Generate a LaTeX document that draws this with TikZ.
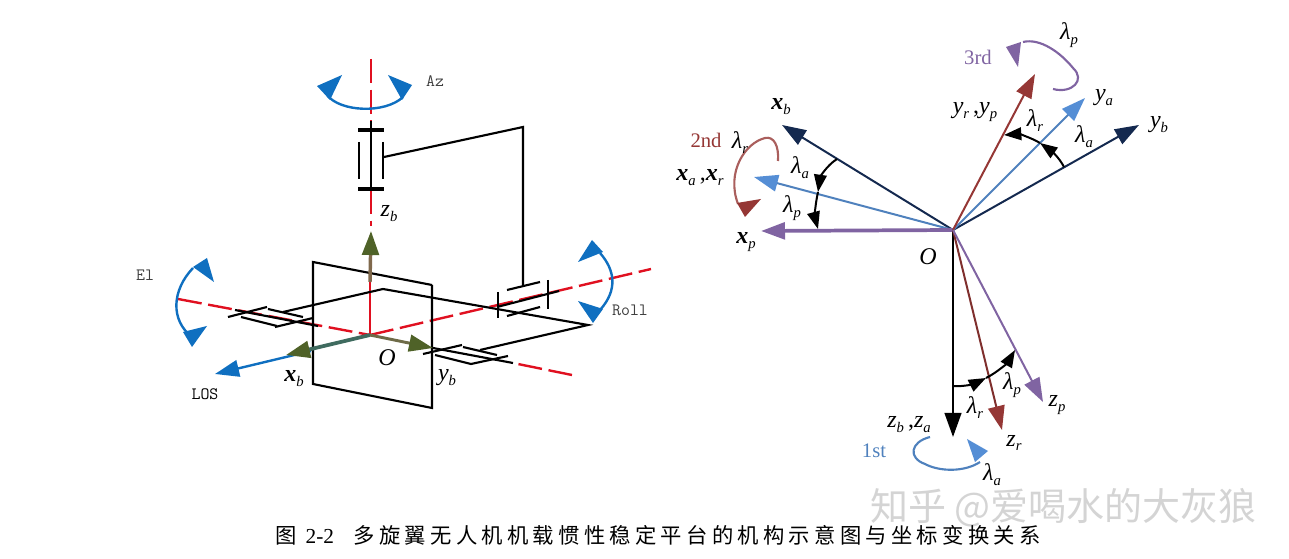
\documentclass[tikz,border=0pt]{standalone}
\usepackage{fontspec}
\setmainfont{Liberation Serif}
\newfontfamily\cjkcap[LetterSpace=20]{Noto Sans CJK SC}
\newfontfamily\cjkmark{Noto Sans CJK SC}
\usetikzlibrary{arrows.meta}
\definecolor{losblue}{HTML}{0F6FC0}
\definecolor{axisred}{HTML}{E01020}
\definecolor{axisgreen}{HTML}{4F6228}
\definecolor{shaftx}{HTML}{3F6B5F}
\definecolor{shafty}{HTML}{6E6B48}
\definecolor{shaftz}{HTML}{80694C}
\definecolor{navyax}{HTML}{14294F}
\definecolor{blueax}{HTML}{4F81BD}
\definecolor{bluehead}{HTML}{558ED5}
\definecolor{brownax}{HTML}{953735}
\definecolor{purpleax}{HTML}{8064A2}
\newcommand{\axlab}[2]{\textit{#1}\raisebox{-.45ex}{\fontsize{11}{11}\selectfont\textit{#2}}}
\tikzset{
  mech/.style={line width=1.6pt,black},
  thinmech/.style={line width=1.3pt,black},
  barmech/.style={line width=2.8pt,black},
  redaxis/.style={line width=1.8pt,axisred,dash pattern=on 18pt off 5pt},
  bluearc/.style={line width=1.8pt,losblue},
  tiparrow/.style={-{Triangle[length=18pt,width=12.5pt,color=#1]}},
  angtip/.style={line width=1.5pt,-{Triangle[length=13pt,width=9.5pt]}},
  symlab/.style={inner sep=0pt,font=\fontsize{18}{18}\selectfont},
  monolab/.style={inner sep=0pt,font=\ttfamily\fontsize{13}{13}\selectfont,black!75},
  ordlab/.style={inner sep=0pt,font=\fontsize{15.5}{16}\selectfont},
}
\begin{document}
\begin{tikzpicture}[x=0.75pt,y=0.75pt,yscale=-1,xscale=1]
\useasboundingbox (0,0) rectangle (1289,559);

%Left picture: points
\coordinate (Ol) at (370,335);
\coordinate (zbl) at (371,231);
\coordinate (ybl) at (433,348);
\coordinate (xbl) at (286,355);
\coordinate (los) at (215,374);
%Right picture: points
\coordinate (O) at (953,230);
\coordinate (xb) at (782,125);
\coordinate (xa) at (754,177);
\coordinate (xp) at (761,231);
\coordinate (yb) at (1139,125);
\coordinate (ya) at (1085,98);
\coordinate (yr) at (1035,74);
\coordinate (zb) at (953,437);
\coordinate (zr) at (1002,430);
\coordinate (zp) at (1043,402);

%Red axes
\draw[redaxis] (371,59) -- (371,125);
\draw[redaxis] (371,190) -- (371,226);
\draw[line width=1.8pt,axisred] (370,282) -- (Ol);
\draw[redaxis] (178,299) -- (Ol);
\draw[redaxis] (Ol) -- (651,269);
\draw[redaxis] (572,375) -- (513,363);

%Plate
\draw[mech] (432,285) -- (313,262) -- (313,384) -- (432,408) -- (432,285);
%Platform
\draw[mech] (283,312) -- (383,289) -- (588,325) -- (480,350);
\draw[mech] (275,327) -- (313,318);

%Az bearing
\draw[line width=2.2pt,black] (371,121) -- (371,190);
\draw[barmech] (358,130) -- (384,130);
\draw[barmech] (358,189) -- (384,189);
\draw[thinmech] (359,142) -- (359,179);
\draw[thinmech] (383,142) -- (383,179);
\draw[mech] (384,157) -- (523,127) -- (523,285);

%El trunnion
\draw[mech] (235,310) -- (318,326);
\draw[mech] (228,317) -- (267,307);
\draw[mech] (268,309) -- (303,317);
\draw[mech] (241,317) -- (277,326);
%Roll trunnion
\draw[mech] (423,354) -- (462,345);
\draw[mech] (463,347) -- (497,355);
\draw[mech] (435,355) -- (471,364) -- (508,356);
\draw[mech] (433,348) -- (513,363);
%Roll bearing
\draw[mech] (497,307) -- (559,291);
\draw[mech] (498,292) -- (498,318);
\draw[mech] (548,280) -- (548,309);
\draw[mech] (507,290) -- (540,282);
\draw[mech] (507,316) -- (540,307);

%Body axes
\draw[line width=1.8pt,losblue,tiparrow=losblue] (311,351) -- (los);
\draw[line width=2.8pt,shaftx,tiparrow=axisgreen] (Ol) -- (xbl);
\draw[line width=2.2pt,shafty,tiparrow=axisgreen] (Ol) -- (ybl);
\draw[line width=2.6pt,shaftz,tiparrow=axisgreen] (370,282) -- (zbl);

%Blue turn arrows
\draw[bluearc] (327,95) .. controls (340,112) and (385,114) .. (403,97);
\fill[losblue] (317,86) -- (342,75) -- (330,100) -- cycle;
\fill[losblue] (388,75) -- (412,85) -- (402,100) -- cycle;
\draw[bluearc] (193,268) .. controls (172,290) and (170,320) .. (192,337);
\fill[losblue] (207,258) -- (214,282) -- (193,267) -- cycle;
\fill[losblue] (207,326) -- (192,347) -- (183,332) -- cycle;
\draw[bluearc] (600,253) .. controls (615,270) and (618,290) .. (600,310);
\fill[losblue] (592,240) -- (603,252) -- (578,262) -- cycle;
\fill[losblue] (578,301) -- (603,309) -- (593,323) -- cycle;

%Right axes
\draw[line width=1.5pt,navyax,tiparrow=navyax] (O) -- (xb);
\draw[line width=1.5pt,blueax,tiparrow=bluehead] (O) -- (xa);
\draw[line width=2.8pt,purpleax,tiparrow=purpleax] (O) -- (xp);
\draw[line width=1.5pt,navyax,tiparrow=navyax] (O) -- (yb);
\draw[line width=1.5pt,blueax,tiparrow=bluehead] (O) -- (ya);
\draw[line width=1.5pt,brownax,tiparrow=brownax] (O) -- (yr);
\draw[line width=1.6pt,black,tiparrow=black] (O) -- (zb);
\draw[line width=1.5pt,brownax!85!black,tiparrow=brownax] (O) -- (zr);
\draw[line width=1.5pt,purpleax,tiparrow=purpleax] (O) -- (zp);

%Black angle arcs
\draw[angtip] (837,159) .. controls (826,166) and (820,178) .. (818,192);
\draw[angtip] (818,192) .. controls (815,205) and (815,218) .. (818,229);
\draw[angtip] (1064,167) .. controls (1059,157) and (1050,150) .. (1040,143);
\draw[angtip] (1040,143) .. controls (1030,137) and (1018,134) .. (1004,135);
\draw[angtip] (953,386) .. controls (965,387) and (976,383) .. (986,378);
\draw[angtip] (986,378) .. controls (998,372) and (1008,362) .. (1015,350);

%Turn order arcs
\draw[line width=1.6pt,brownax!80!white] (778,161) .. controls (779,146) and (774,136) .. (765,138) .. controls (745,143) and (726,172) .. (738,204);
\fill[brownax] (737,203) -- (761,199) -- (745,217) -- cycle;
\draw[line width=1.6pt,purpleax] (1053,89) .. controls (1072,94) and (1086,80) .. (1073,68) .. controls (1060,52) and (1040,38) .. (1023,42);
\fill[purpleax] (1006,47) -- (1021,42) -- (1018,67) -- cycle;
\draw[line width=1.6pt,blueax] (930,437) .. controls (910,442) and (908,458) .. (925,464) .. controls (940,472) and (965,472) .. (980,462);
\fill[bluehead] (967,439) -- (988,451) -- (975,462) -- cycle;

% Text Node
\node[monolab] (lblaz) at (435,81) {Az};
\node[monolab] (lblel) at (145,275) {El};
\node[monolab,black] (lbllos) at (205,394) {LOS};
\node[monolab] (lblroll) at (630,310) {Roll};
\node[symlab] (lblzbl) at (389,214) {\axlab{z}{b}};
\node[symlab] (lblxbl) at (294,379) {\axlab{\textbf{x}}{b}};
\node[symlab] (lblybl) at (447,378) {\axlab{y}{b}};
\node[symlab] (lblol) at (387,358) {\textit{O}};

% Text Node
\node[symlab] (lblo) at (928,257) {\textit{O}};
\node[symlab] (lblxb) at (781,107) {\axlab{\textbf{x}}{b}};
\node[ordlab,text=brownax] (lbl2nd) at (706,140) {2nd};
\node[symlab] (lbllr) at (740,143) {\axlab{λ}{r}};
\node[symlab] (lblxa) at (700,178) {\axlab{\textbf{x}}{a}\,,\axlab{\textbf{x}}{r}};
\node[symlab] (lbllax) at (800,168) {\axlab{λ}{a}};
\node[symlab] (lbllpx) at (792,208) {\axlab{λ}{p}};
\node[symlab] (lblxp) at (746,242) {\axlab{\textbf{x}}{p}};

% Text Node
\node[symlab] (lbllpy) at (1069,35) {\axlab{λ}{p}};
\node[ordlab,text=purpleax] (lbl3rd) at (978,57) {3rd};
\node[symlab] (lblyr) at (975,112) {\axlab{y}{r}\,,\axlab{y}{p}};
\node[symlab] (lbllry) at (1035,121) {\axlab{λ}{r}};
\node[symlab] (lblya) at (1104,98) {\axlab{y}{a}};
\node[symlab] (lbllay) at (1084,137) {\axlab{λ}{a}};
\node[symlab] (lblyb) at (1159,125) {\axlab{y}{b}};

% Text Node
\node[ordlab,text=blueax] (lbl1st) at (874,451) {1st};
\node[symlab] (lbllrz) at (975,408) {\axlab{λ}{r}};
\node[symlab] (lbllpz) at (1012,385) {\axlab{λ}{p}};
\node[symlab] (lblzp) at (1057,405) {\axlab{z}{p}};
\node[symlab] (lblzb) at (909,425) {\axlab{z}{b}\,,\axlab{z}{a}};
\node[symlab] (lblzr) at (1014,443) {\axlab{z}{r}};
\node[symlab] (lbllaz) at (992,475) {\axlab{λ}{a}};

% Text Node
\node[anchor=west,inner sep=0pt,font=\cjkmark\fontsize{28.5}{28.5}\selectfont,text=black!17] (wmark) at (870,508) {知乎 @爱喝水的大灰狼};
\node[anchor=west,inner sep=0pt,font=\cjkcap\fontsize{16}{16}\selectfont] (caption) at (275,535) {图 {\rmfamily 2-2}\,\,\, 多旋翼无人机机载惯性稳定平台的机构示意图与坐标变换关系};

\end{tikzpicture}
\end{document}
